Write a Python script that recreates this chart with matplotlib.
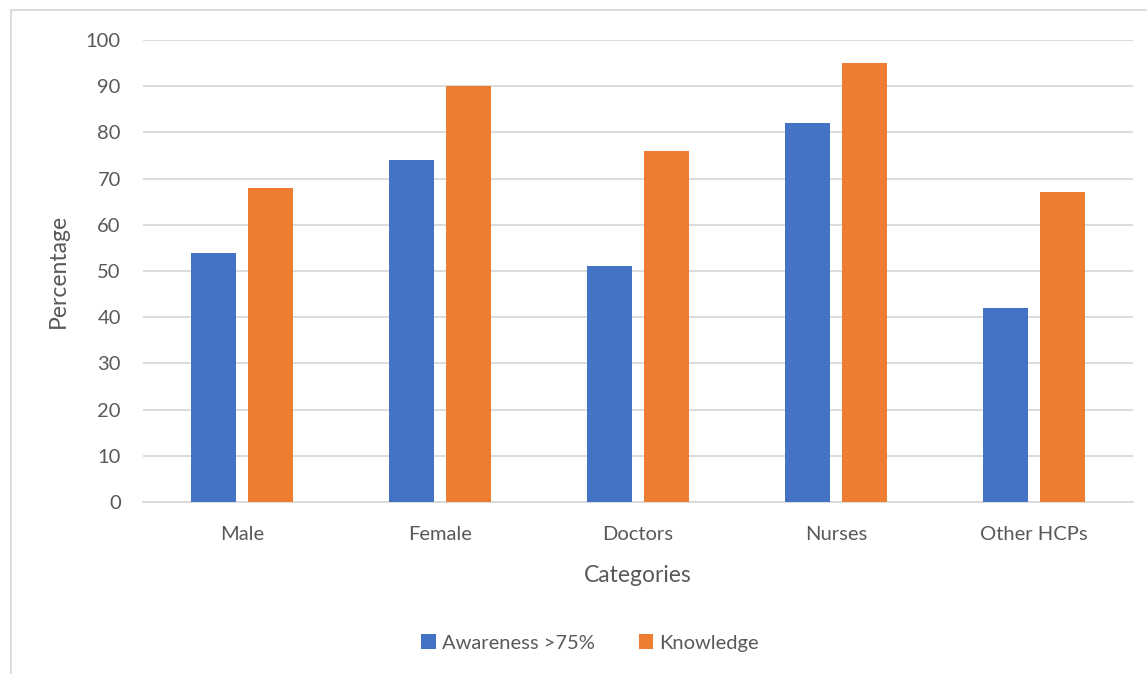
import numpy as np
import matplotlib
matplotlib.use("Agg")
import matplotlib.pyplot as plt
from matplotlib.patches import Rectangle

categories = ["Male", "Female", "Doctors", "Nurses", "Other HCPs"]
awareness = [54, 74, 51, 82, 42]
knowledge = [68, 90, 76, 95, 67]
series_names = ["Awareness >75%", "Knowledge"]
yticks = list(range(0, 101, 10))

plt.rcParams['font.family'] = ['Lato', 'DejaVu Sans']
text_color = '#595959'
grid_color = '#D9D9D9'

W, H = 1147, 674
fig = plt.figure(figsize=(W / 100, H / 100), dpi=100)
ax = fig.add_axes([143 / W, (H - 502) / H, (1133 - 143) / W, (502 - 40) / H])

x = np.arange(len(categories))
width = 0.227
off = 0.144
ax.bar(x - off, awareness, width, color='#4472C4', label=series_names[0], zorder=3)
ax.bar(x + off, knowledge, width, color='#ED7D31', label=series_names[1], zorder=3)

ax.set_xlim(-0.5, len(categories) - 0.5)
ax.set_ylim(0, 100)
ax.set_yticks(yticks)
ax.set_xticks(x)
ax.set_xticklabels(categories)
ax.yaxis.grid(True, color=grid_color, linewidth=1.3, zorder=0)
ax.set_axisbelow(True)
for s in ['top', 'right', 'left']:
    ax.spines[s].set_visible(False)
ax.spines['bottom'].set_color(grid_color)
ax.spines['bottom'].set_linewidth(1.3)
ax.tick_params(axis='both', length=0, labelsize=14.5, colors=text_color)
ax.tick_params(axis='y', pad=16)
ax.tick_params(axis='x', pad=17)

ax.set_ylabel("Percentage", fontsize=16.5, color=text_color, labelpad=12)
ax.set_xlabel("Categories", fontsize=16.5, color=text_color, labelpad=16)

leg = fig.legend(loc='center', bbox_to_anchor=(590 / W, 1 - 643 / H), ncol=2,
                 frameon=False, fontsize=14.5, handlelength=0.7, handleheight=0.7,
                 handletextpad=0.3, columnspacing=2.2)
for t in leg.get_texts():
    t.set_color(text_color)

# chart border (only left and top visible in reference)
fig.add_artist(Rectangle((11 / W, -0.1), 1.2, 1 - 10 / H + 0.1, transform=fig.transFigure,
                         fill=False, edgecolor='#D9D9D9', linewidth=1.3))

fig.savefig("out.png", dpi=100)
